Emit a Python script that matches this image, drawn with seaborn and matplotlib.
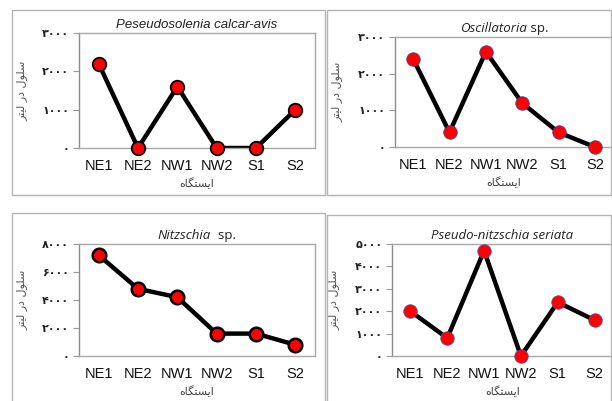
import numpy as np
import pandas as pd
import seaborn as sns
import matplotlib as mpl
import matplotlib.pyplot as plt
from matplotlib.patches import Rectangle

sns.set_theme(style='white')
plt.rcParams['font.family'] = ['Liberation Sans', 'DejaVu Sans']

stations = ['NE1', 'NE2', 'NW1', 'NW2', 'S1', 'S2']

pseudosolenia = [2200, 0, 1600, 0, 0, 1000]
oscillatoria = [2400, 400, 2600, 1200, 400, 0]
nitzschia = [7200, 4800, 4200, 1600, 1600, 800]
pseudo_nitzschia = [2000, 800, 4700, 0, 2400, 1600]

ticks_tl = [0, 1000, 2000, 3000]
ticks_tr = [0, 1000, 2000, 3000]
ticks_bl = [0, 2000, 4000, 6000, 8000]
ticks_br = [0, 1000, 2000, 3000, 4000, 5000]

# Persian text, pre-shaped (presentation forms, visual order) since matplotlib has no shaping
ylabel_fa = '\uFEAE\uFE98\uFBFF\uFEDF \uFEAD\uFEA9 \uFEDD\uFEEE\uFEE0\uFEB3'
xlabel_fa = '\uFEE9\uFE8E\uFB95\uFE98\uFEB4\uFBFE\uFE8D'

fa_digits = str.maketrans('0123456789', '\u06F0\u06F1\u06F2\u06F3\u06F4\u06F5\u06F6\u06F7\u06F8\u06F9')


def fa(n):
    return str(n).translate(fa_digits)


W, H = 612, 401
fig = plt.figure(figsize=(W / 100, H / 100), dpi=100)
fig.patch.set_facecolor('white')

# panel boxes (pixels: x0, y0_top, x1, y1_bottom)
for x0, y0, x1, y1 in [(12, 10, 325, 195), (327, 10, 611, 195),
                       (12, 213, 325, 410), (327, 215, 611, 410)]:
    fig.patches.append(Rectangle((x0 / W, 1 - y1 / H), (x1 - x0) / W, (y1 - y0) / H,
                                 transform=fig.transFigure, fill=False,
                                 edgecolor='#b4b4b4', lw=1.0, zorder=0))


def panel(rect_px, values, ticks, title_parts, edge, edge_lw, ylab_dx):
    x0, y0, x1, y1 = rect_px
    ax = fig.add_axes([x0 / W, 1 - y1 / H, (x1 - x0) / W, (y1 - y0) / H])
    df = pd.DataFrame({'station': stations, 'cells': values})
    sns.lineplot(data=df, x='station', y='cells', color='black', lw=3.2,
                 sort=False, ax=ax, zorder=2)
    sns.scatterplot(data=df, x='station', y='cells', color='#ff0000', s=95,
                    edgecolor=edge, linewidth=edge_lw, ax=ax, zorder=3, clip_on=False)
    ax.set_xlim(-0.5, len(stations) - 0.5)
    ax.set_ylim(ticks[0], ticks[-1])
    ax.set_yticks(ticks)
    ax.set_yticklabels([fa(t) for t in ticks], family='DejaVu Sans',
                       fontsize=8, fontweight='bold', color='#222222')
    ax.tick_params(axis='y', length=4, width=0.8, color='#999999', pad=3, left=True)
    ax.tick_params(axis='x', length=0, pad=8, labelsize=10.5, labelcolor='#111111')
    for s in ax.spines.values():
        s.set_color('#a8a8a8')
        s.set_linewidth(1.0)
    ax.spines['left'].set_color('#8c8c8c')
    ax.set_xlabel(xlabel_fa, family='DejaVu Sans', fontsize=8, color='#444444', labelpad=3)
    ax.set_ylabel(ylabel_fa, family='DejaVu Sans', fontsize=8, color='#555555')
    ax.yaxis.set_label_coords(-ylab_dx / (x1 - x0), 0.5)
    # title made of italic / upright parts, centred over the axes
    pieces = []
    for s, style, fam in title_parts:
        t = ax.text(0, 1.02, s, transform=ax.transAxes, fontsize=9.5, style=style,
                    family=fam, color='#222222', ha='left', va='bottom')
        pieces.append(t)
    fig.canvas.draw()
    r = fig.canvas.get_renderer()
    widths = [p.get_window_extent(r).width for p in pieces]
    axw = x1 - x0
    start = (axw - sum(widths)) / 2
    for p, w in zip(pieces, widths):
        p.set_x(start / axw)
        start += w
    return ax


panel((79, 33, 315, 148), pseudosolenia, ticks_tl,
      [('Peseudosolenia calcar-avis', 'italic', 'Liberation Sans')], 'black', 1.3, 52)
panel((395, 37, 613, 147), oscillatoria, ticks_tr,
      [('Oscillatoria', 'italic', 'Open Sans'), (' sp.', 'normal', 'Open Sans')], '#3a3aa0', 0.5, 53)
panel((79, 244, 315, 356), nitzschia, ticks_bl,
      [('Nitzschia', 'italic', 'Open Sans'), ('  sp.', 'normal', 'Open Sans')], 'black', 1.8, 52)
panel((392, 244, 613, 356), pseudo_nitzschia, ticks_br,
      [('Pseudo-nitzschia seriata', 'italic', 'Open Sans')], '#5050a0', 0.5, 53)

fig.savefig('out.png', dpi=100, facecolor='white')
